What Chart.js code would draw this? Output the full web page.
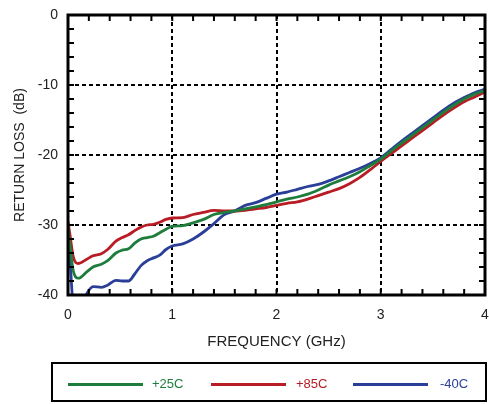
<!DOCTYPE html>
<html>
<head>
<meta charset="utf-8">
<script src="https://cdn.jsdelivr.net/npm/chart.js@4"></script>
<style>
  body { margin: 0; background: #fff; }
  #wrap { position: relative; width: 489px; height: 404px; font-family: "Liberation Sans", Arial, sans-serif; }
  #chart { position: absolute; left: 0; top: 0; }
  #legendBox { position: absolute; left: 51px; top: 362px; width: 432px; height: 36px; border: 2px solid #000; }
  .lline { position: absolute; height: 3px; top: 383px; }
  .ltext { position: absolute; top: 376px; font-size: 13px; line-height: 16px; }
</style>
</head>
<body>
<div id="wrap">
  <canvas id="chart" width="489" height="404"></canvas>
  <div id="legendBox"></div>
  <div id="legendItems"></div>
</div>
<script>
// frequency (GHz)
var freq = [0, 0.02, 0.05, 0.1, 0.18, 0.24, 0.32, 0.38, 0.46, 0.52, 0.58, 0.64, 0.7, 0.76, 0.82, 0.88, 0.94, 1.0,
            1.1, 1.2, 1.3, 1.4, 1.5, 1.6, 1.7, 1.8, 1.9, 2.0, 2.1, 2.2, 2.3, 2.4, 2.5, 2.6, 2.7, 2.8, 2.9, 3.0,
            3.1, 3.2, 3.3, 3.4, 3.5, 3.6, 3.7, 3.8, 3.9, 4.0]

// return loss (dB)
var rl25 = [-30.5, -33, -36.5, -37.6, -36.7, -36.0, -35.6, -35.1, -34.0, -33.6, -33.4, -32.6, -32.0, -31.8, -31.6, -31.1, -30.6, -30.2,
            -30.1, -29.7, -29.2, -28.5, -28.2, -28.0, -27.7, -27.4, -27.1, -26.7, -26.3, -26.0, -25.6, -25.0, -24.3, -23.7, -23.1, -22.4, -21.5, -20.6,
            -19.4, -18.3, -17.2, -16.1, -15.0, -13.9, -12.9, -12.0, -11.3, -10.8]
var rl85 = [-29.5, -31.5, -34.5, -35.5, -34.9, -34.4, -34.1, -33.5, -32.3, -31.8, -31.4, -30.8, -30.3, -30.0, -29.9, -29.6, -29.2, -29.0,
            -28.95, -28.5, -28.2, -27.9, -28.0, -28.0, -27.9, -27.7, -27.5, -27.2, -26.9, -26.7, -26.3, -25.8, -25.3, -24.8, -24.1, -23.2, -22.1, -20.9,
            -19.8, -18.7, -17.6, -16.5, -15.4, -14.3, -13.3, -12.4, -11.7, -11.0]
var rlm40 = [-31, -35, -41.5, -42.5, -39.8, -38.8, -38.9, -38.6, -37.9, -38.0, -38.0, -37.0, -35.8, -35.1, -34.7, -34.3, -33.5, -33.0,
            -32.7, -32.0, -31.0, -29.8, -28.5, -28.0, -27.2, -26.8, -26.2, -25.6, -25.3, -24.9, -24.5, -24.2, -23.7, -23.1, -22.5, -21.9, -21.2, -20.4,
            -19.2, -18.0, -16.9, -15.8, -14.7, -13.6, -12.6, -11.8, -11.1, -10.6]

var labels = ['+25C', '+85C', '-40C']
var colors = ['#1e7d3c', '#b81c24', '#2a3f98']
var xTicks = [0, 1, 2, 3, 4]
var yTicks = [-40, -30, -20, -10, 0]

function toPoints(ys) {
    return freq.map(function(f, i) { return {x: f, y: ys[i]} })
}

var font = "'Liberation Sans', Arial, sans-serif"

// thick frame and inward minor ticks
var framePlugin = {
    id: 'frame',
    afterDraw: function(chart) {
        var ctx = chart.ctx
        var a = chart.chartArea
        var xs = chart.scales.x, ys = chart.scales.y
        ctx.save()
        ctx.strokeStyle = '#000'
        ctx.lineWidth = 2
        ctx.beginPath()
        for (var v = 0; v <= 4.001; v += 0.2) {
            var px = xs.getPixelForValue(v)
            ctx.moveTo(px, a.bottom); ctx.lineTo(px, a.bottom - 6)
            ctx.moveTo(px, a.top); ctx.lineTo(px, a.top + 6)
        }
        for (var w = -40; w <= 0; w += 2) {
            var py = ys.getPixelForValue(w)
            ctx.moveTo(a.left, py); ctx.lineTo(a.left + 6, py)
            ctx.moveTo(a.right, py); ctx.lineTo(a.right - 6, py)
        }
        ctx.stroke()
        ctx.lineWidth = 3
        ctx.strokeRect(a.left, a.top, a.right - a.left, a.bottom - a.top)
        ctx.restore()
    }
}

var sets = [rl25, rl85, rlm40]
new Chart(document.getElementById('chart'), {
    type: 'line',
    data: {
        datasets: sets.map(function(s, i) {
            return {
                label: labels[i],
                data: toPoints(s),
                borderColor: colors[i],
                borderWidth: 2.8,
                pointRadius: 0,
                fill: false,
                cubicInterpolationMode: 'monotone'
            }
        })
    },
    options: {
        responsive: false,
        animation: false,
        layout: { padding: { left: 0, top: 15, right: 4, bottom: 50 } },
        plugins: { legend: { display: false }, tooltip: { enabled: false } },
        scales: {
            x: {
                type: 'linear',
                min: 0, max: 4,
                afterFit: function(s) { s.height = 59; s.paddingLeft = 0; s.paddingRight = 0 },
                afterBuildTicks: function(s) { s.ticks = xTicks.map(function(v) { return {value: v} }) },
                grid: { color: '#000', lineWidth: 2, drawTicks: false },
                border: { display: false, dash: [4, 3] },
                ticks: { padding: 12, color: '#222', font: { family: font, size: 14 } },
                title: { display: true, text: 'FREQUENCY (GHz)', color: '#222', padding: { top: 0, bottom: 3 }, font: { family: font, size: 15 } }
            },
            y: {
                min: -40, max: 0,
                afterFit: function(s) { s.width = 68; s.paddingTop = 0; s.paddingBottom = 0 },
                afterBuildTicks: function(s) { s.ticks = yTicks.map(function(v) { return {value: v} }) },
                grid: { color: '#000', lineWidth: 2, drawTicks: false },
                border: { display: false, dash: [4, 3] },
                ticks: { padding: 10, color: '#222', font: { family: font, size: 14 } },
                title: { display: true, text: 'RETURN LOSS  (dB)', color: '#222', padding: { top: 12, bottom: 0 }, font: { family: font, size: 14 } }
            }
        }
    },
    plugins: [framePlugin]
})

// legend under the chart
var lineX = [68, 211, 353]
var textX = [152, 296, 440]
var holder = document.getElementById('legendItems')
labels.forEach(function(l, i) {
    var line = document.createElement('div')
    line.className = 'lline'
    line.style.left = lineX[i] + 'px'
    line.style.width = '75px'
    line.style.background = colors[i]
    var txt = document.createElement('div')
    txt.className = 'ltext'
    txt.style.left = textX[i] + 'px'
    txt.style.color = colors[i]
    txt.innerHTML = l
    holder.append(line)
    holder.append(txt)
})
</script>
</body>
</html>
